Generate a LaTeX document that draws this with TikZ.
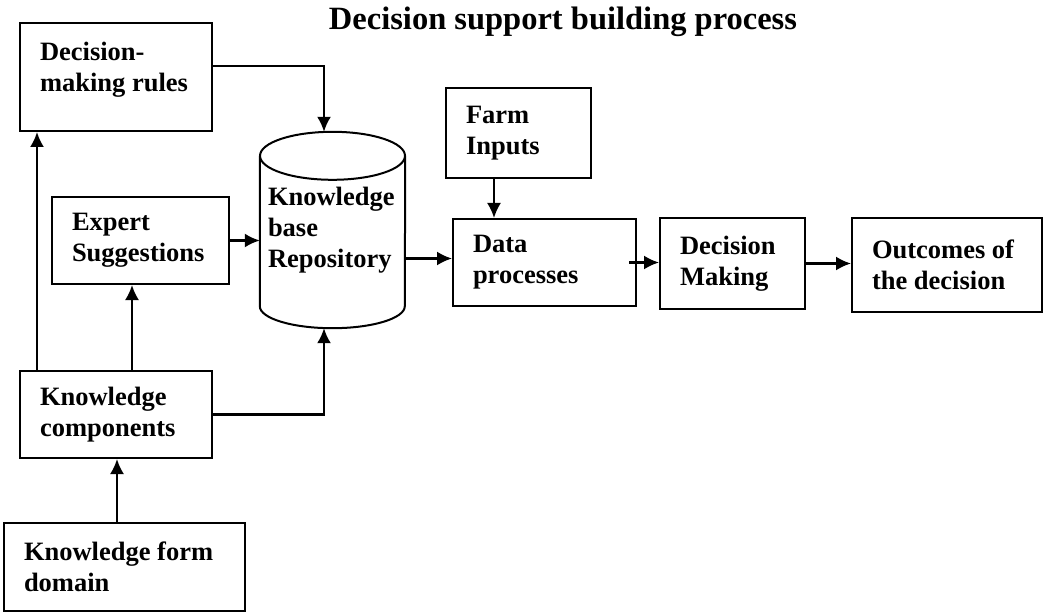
\documentclass[tikz,border=0pt]{standalone}
\usepackage{fontspec}
\setmainfont{Liberation Serif}
\usetikzlibrary{arrows.meta, calc}

\begin{document}
\begin{tikzpicture}[x=1pt, y=1pt]
	\tikzstyle{box}=[rectangle, draw, line width=2pt, inner xsep=20pt, inner ysep=0pt, align=flush left,
		font=\fontsize{26.5}{31}\selectfont\bfseries]
	\tikzstyle{flow}=[->, line width=2.2pt, >={Latex[length=15pt, width=14pt]}]

	\useasboundingbox (0,0) rectangle (1043,-612);

	\node[font=\fontsize{32.5}{38}\selectfont\bfseries, anchor=base] (title) at (563,-30)
		{Decision support building process};

	\node[box, text width=152pt, minimum height=108pt] (rules) at (116,-77) {
		Decision-\\making rules\\[-10pt]\mbox{}
	};

	\node[box, text width=137pt, minimum height=87pt] (expert) at (140.5,-240.5) {
		Expert\\Suggestions
	};

	\node[box, text width=152pt, minimum height=87pt] (comp) at (116,-414.5) {
		Knowledge\\components
	};

	\node[box, text width=201pt, minimum height=88pt] (domain) at (124.5,-567) {
		Knowledge form\\domain
	};

	% repository drawn as a cylinder round the node
	\node[inner xsep=8pt, inner ysep=0pt, text width=129pt, minimum height=196pt, align=flush left,
		font=\fontsize{26.5}{31}\selectfont\bfseries] (repo) at (332.5,-230) {
		Knowledge\\base\\Repository
	};
	\draw[line width=2pt] ($(repo.north)+(0,-24)$) ellipse [x radius=72.5pt, y radius=24pt];
	\draw[line width=2pt] ($(repo.north west)+(0,-24)$) -- ($(repo.south west)+(0,22)$)
		arc[start angle=180, end angle=360, x radius=72.5pt, y radius=22pt]
		-- ($(repo.north east)+(0,-24)$);

	\node[box, text width=105pt, minimum height=90pt] (farm) at (518.5,-133) {
		Farm\\Inputs
	};

	\node[box, text width=143pt, minimum height=87pt] (data) at (544.5,-262.5) {
		Data\\processes
	};

	\node[box, text width=105pt, minimum height=91pt] (making) at (732.5,-263.5) {
		Decision\\Making
	};

	\node[box, text width=150pt, minimum height=94pt] (outcome) at (947,-265) {
		Outcomes of\\the decision
	};

	\draw[flow] ([yshift=11pt]rules.east) -| ([xshift=-8.5pt]repo.north);
	\draw[flow] (expert.east) -- (expert.east -| repo.west);
	\draw[flow] ([yshift=4pt]repo.east |- data.west) -- ([yshift=4pt]data.west);
	\draw[flow] ([xshift=-24.5pt]farm.south) -- ([xshift=-24.5pt]farm.south |- data.north);
	\draw[flow] ([xshift=-8pt]data.east) -- (data.east -| making.west);
	\draw[flow] (making.east) -- (making.east -| outcome.west);
	\draw[flow] ([xshift=-79pt]comp.north) -- ([xshift=-79pt]rules.south);
	\draw[flow] ([xshift=16pt]comp.north) -- ([xshift=16pt]comp.north |- expert.south);
	\draw[flow] (comp.east) -| ([xshift=-8.5pt]repo.south);
	\draw[flow] ([xshift=-7.5pt]domain.north) -- ([xshift=-7.5pt]domain.north |- comp.south);

\end{tikzpicture}
\end{document}
